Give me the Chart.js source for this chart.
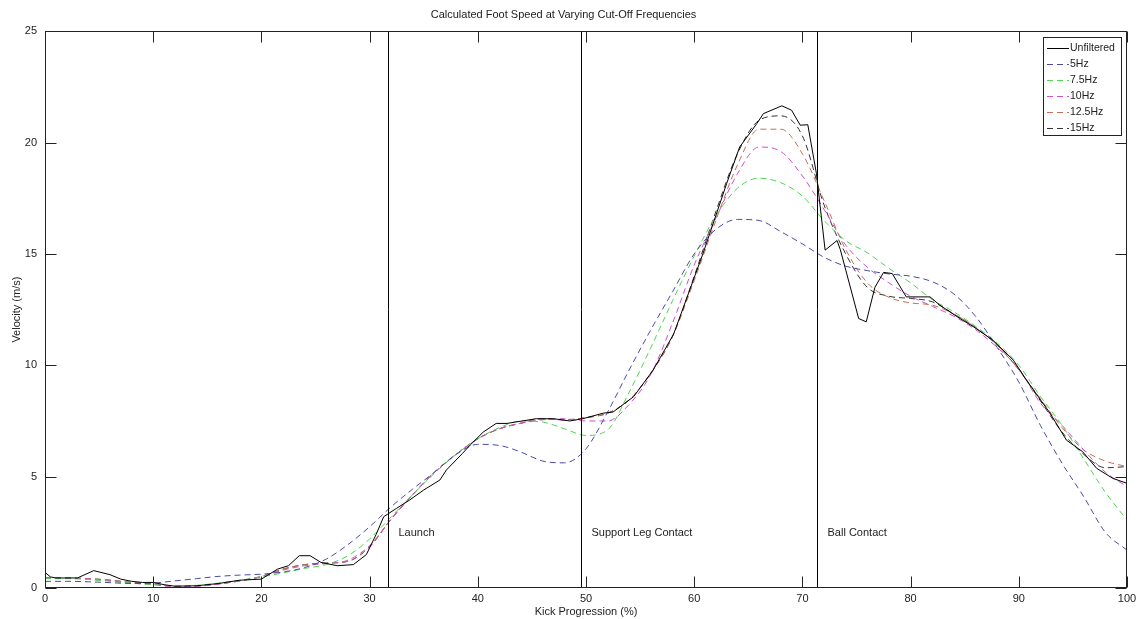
<!DOCTYPE html>
<html>
<head>
<meta charset="utf-8">
<script src="https://cdn.jsdelivr.net/npm/chart.js@4.4.1/dist/chart.umd.min.js"></script>
<style>
  html, body { margin: 0; padding: 0; background: #fff; }
</style>
</head>
<body>
<canvas id="grafico" width="1137" height="619"></canvas>
<script>
// Progressão do chute (%) para as curvas filtradas
const xs = [0, 2, 4, 6, 8, 10, 12, 14, 16, 18, 20, 22, 24, 26, 28, 30, 32, 34, 36, 38, 40,
  42, 44, 46, 48, 50, 52, 54, 56, 58, 60, 62, 64, 66, 68, 70, 72, 74, 76, 78, 80,
  82, 84, 86, 88, 90, 92, 94, 96, 98, 100];

const hz5 = [0.30, 0.30, 0.28, 0.24, 0.20, 0.22, 0.32, 0.42, 0.52, 0.58, 0.62,
  0.72, 0.92, 1.30, 1.95, 2.75, 3.65, 4.45, 5.20, 6.00, 6.45,
  6.40, 6.10, 5.70, 5.62, 6.25, 7.90, 9.80, 11.6, 13.3, 15.0,
  16.1, 16.55, 16.5, 16.0, 15.45, 14.85, 14.45, 14.25, 14.1, 14.0,
  13.75, 13.2, 12.2, 10.8, 9.25, 7.3, 5.6, 4.1, 2.5, 1.7];

const hz7_5 = [0.42, 0.42, 0.38, 0.30, 0.22, 0.15, 0.10, 0.12, 0.22, 0.35, 0.50,
  0.68, 0.88, 1.05, 1.45, 2.20, 3.20, 4.20, 5.15, 6.00, 6.70,
  7.20, 7.50, 7.45, 7.15, 6.85, 7.10, 8.80, 10.8, 12.9, 14.9,
  16.7, 17.95, 18.4, 18.2, 17.6, 16.5, 15.6, 15.05, 14.35, 13.7,
  12.95, 12.4, 11.75, 11.0, 10.0, 8.6, 7.3, 5.8, 4.3, 3.05];

const hz10 = [0.45, 0.45, 0.40, 0.32, 0.22, 0.15, 0.06, 0.08, 0.18, 0.32, 0.50,
  0.80, 1.00, 1.10, 1.25, 1.90, 3.10, 4.20, 5.20, 6.00, 6.70,
  7.15, 7.40, 7.55, 7.60, 7.50, 7.50, 8.25, 9.60, 11.9, 14.5,
  16.6, 18.6, 19.8, 19.6, 18.5, 17.0, 15.4, 14.4, 13.7, 13.1,
  12.65, 12.2, 11.6, 10.8, 9.85, 8.3, 7.3, 6.2, 5.2, 4.55];

const hz12_5 = [0.45, 0.45, 0.42, 0.35, 0.25, 0.18, 0.07, 0.08, 0.18, 0.32, 0.52,
  0.85, 1.05, 1.12, 1.20, 1.85, 3.10, 4.20, 5.20, 6.00, 6.70,
  7.15, 7.40, 7.60, 7.55, 7.65, 7.85, 8.45, 9.65, 11.3, 13.8,
  16.5, 19.0, 20.6, 20.6, 19.5, 17.4, 15.2, 13.7, 13.05, 12.8,
  12.7, 12.3, 11.7, 10.9, 9.8, 8.5, 7.2, 6.2, 5.7, 5.45];

const hz15 = [0.45, 0.45, 0.42, 0.35, 0.25, 0.18, 0.07, 0.08, 0.18, 0.32, 0.52,
  0.85, 1.05, 1.12, 1.20, 1.85, 3.10, 4.20, 5.20, 6.00, 6.70,
  7.15, 7.40, 7.60, 7.55, 7.65, 7.85, 8.45, 9.65, 11.3, 14.0,
  16.9, 19.5, 21.0, 21.2, 20.3, 17.2, 15.0, 13.5, 13.1, 13.0,
  12.85, 12.3, 11.7, 10.9, 9.8, 8.4, 7.0, 6.0, 5.4, 5.45];

// Sinal sem filtro (amostras irregulares)
const rawX = [0, 0.5, 1, 3, 4.5, 6, 7, 8, 9, 10, 11, 12, 14, 16, 18, 20, 21.5, 22.5, 23.5, 24.5,
  25.5, 27, 28.5, 29.7, 30.6, 31.3, 32.5, 33.7, 35, 36.5, 37.1, 38.6, 39.3, 40.5, 41.7, 42.7,
  45.4, 47, 48.5, 49.7, 51.6, 52.5, 54.4, 56.2, 58.1, 59.6, 60.8, 63, 64.2, 65.8, 66.4, 68.1,
  69, 69.8, 70.5, 71.3, 72.1, 73.2, 73.5, 75.2, 75.9, 76.7, 77.5, 78.3, 79.6, 81.8, 82.7,
  84.3, 85.8, 87.6, 89.5, 90.7, 92.9, 94.4, 95.9, 97.2, 98.7, 100];
const rawVel = [0.7, 0.5, 0.45, 0.45, 0.78, 0.6, 0.4, 0.3, 0.25, 0.25, 0.15, 0.08, 0.1, 0.2, 0.35, 0.4, 0.85, 1.0, 1.45, 1.45,
  1.15, 1.0, 1.05, 1.5, 2.4, 3.2, 3.58, 3.95, 4.4, 4.85, 5.3, 6.05, 6.42, 7.0, 7.39, 7.39,
  7.6, 7.6, 7.5, 7.6, 7.85, 7.9, 8.59, 9.78, 11.4, 13.4, 15.0, 18.16, 19.8, 20.86, 21.3, 21.65,
  21.45, 20.78, 20.8, 18.6, 15.17, 15.6, 15.2, 12.1, 11.95, 13.5, 14.17, 14.12, 13.07, 13.07, 12.7,
  12.18, 11.73, 11.13, 10.23, 9.34, 7.84, 6.64, 6.12, 5.37, 4.92, 4.7];

// Momentos do chute
const eventos = [31.7, 49.5, 71.35];
const rotulosEventos = ["Launch", "Support Leg Contact", "Ball Contact"];

const fonte = "'Liberation Sans', Arial, sans-serif";
Chart.defaults.font.family = fonte;
Chart.defaults.font.size = 11;
Chart.defaults.color = "#222";

const pares = (a, b) => a.map((v, i) => ({ x: v, y: b[i] }));

const tracejada = (label, cor, valores) => ({
  label: label,
  data: pares(xs, valores),
  borderColor: cor,
  borderWidth: 1,
  borderDash: [6, 4],
  pointRadius: 0,
  cubicInterpolationMode: "monotone",
  fill: false,
});

const dados = {
  datasets: [
    {
      label: "Unfiltered",
      data: pares(rawX, rawVel),
      borderColor: "#000",
      borderWidth: 1,
      pointRadius: 0,
      tension: 0,
      fill: false,
    },
    tracejada("5Hz", "#4a4aa6", hz5),
    tracejada("7.5Hz", "#4fd64f", hz7_5),
    tracejada("10Hz", "#d04ed0", hz10),
    tracejada("12.5Hz", "#c86e58", hz12_5),
    tracejada("15Hz", "#333333", hz15),
  ],
};

// Caixa, marcas internas, linhas de evento e legenda ao estilo MATLAB
const moldura = {
  id: "moldura",
  afterDatasetsDraw(chart) {
    const { ctx, chartArea: a, scales } = chart;
    const x = scales.x, y = scales.y;
    const L = Math.round(a.left) + 0.5, R = Math.round(a.right) - 0.5;
    const T = Math.round(a.top) + 0.5, B = Math.round(a.bottom) - 0.5;
    ctx.save();
    ctx.lineWidth = 1;
    ctx.font = "11px " + fonte;
    ctx.fillStyle = "#222";

    eventos.forEach((ev, i) => {
      const px = Math.round(x.getPixelForValue(ev)) + 0.5;
      ctx.strokeStyle = "#000";
      ctx.beginPath();
      ctx.moveTo(px, T);
      ctx.lineTo(px, B);
      ctx.stroke();
      ctx.textBaseline = "middle";
      ctx.textAlign = "left";
      ctx.fillText(rotulosEventos[i], px + 10, y.getPixelForValue(2.45));
    });

    ctx.strokeStyle = "#222";
    ctx.strokeRect(L, T, R - L, B - T);
    const tam = 11;
    ctx.beginPath();
    x.ticks.forEach(t => {
      const px = Math.round(x.getPixelForValue(t.value)) + 0.5;
      ctx.moveTo(px, B); ctx.lineTo(px, B - tam);
      ctx.moveTo(px, T); ctx.lineTo(px, T + tam);
    });
    y.ticks.forEach(t => {
      const py = Math.round(y.getPixelForValue(t.value)) + 0.5;
      ctx.moveTo(L, py); ctx.lineTo(L + tam, py);
      ctx.moveTo(R, py); ctx.lineTo(R - tam, py);
    });
    ctx.stroke();

    // legenda
    const ds = chart.data.datasets;
    const bx = Math.round(R - 84), by = Math.round(T + 5), bw = 78, lh = 15.9;
    const bh = 98;
    ctx.fillStyle = "#fff";
    ctx.fillRect(bx, by, bw, bh);
    ctx.strokeStyle = "#222";
    ctx.strokeRect(bx + 0.5, by + 0.5, bw, bh);
    ctx.font = "10.5px " + fonte;
    ds.forEach((d, i) => {
      const cy = Math.round(by + 11 + i * lh) + 0.5;
      ctx.strokeStyle = d.borderColor;
      ctx.setLineDash(d.borderDash || []);
      ctx.beginPath();
      ctx.moveTo(bx + 4, cy);
      ctx.lineTo(bx + 26, cy);
      ctx.stroke();
      ctx.setLineDash([]);
      ctx.fillStyle = "#222";
      ctx.textAlign = "left";
      ctx.textBaseline = "middle";
      ctx.fillText(d.label, bx + 27, cy);
    });
    ctx.restore();
  },
};

const config = {
  type: "line",
  data: dados,
  options: {
    responsive: false,
    animation: false,
    layout: { padding: { left: 0, right: 10, top: 0, bottom: 0 } },
    plugins: {
      legend: { display: false },
      tooltip: { enabled: false },
      title: {
        display: true,
        text: "Calculated Foot Speed at Varying Cut-Off Frequencies",
        font: { size: 11, weight: "normal" },
        color: "#222",
        padding: { top: 8, bottom: 10 },
      },
    },
    scales: {
      x: {
        type: "linear",
        min: 0,
        max: 100,
        grid: { display: false, drawTicks: false },
        border: { display: false },
        ticks: { stepSize: 10, padding: 4, maxRotation: 0 },
        title: { display: true, text: "Kick Progression (%)", padding: { top: 0, bottom: 0 } },
        afterFit(s) { s.height = 31; s.paddingLeft = 0; s.paddingRight = 0; },
      },
      y: {
        min: 0,
        max: 25,
        grid: { display: false, drawTicks: false },
        border: { display: false },
        ticks: { stepSize: 5, padding: 8 },
        title: { display: true, text: "Velocity (m/s)", padding: { top: 10, bottom: 0 } },
        afterFit(s) { s.width = 45; s.paddingTop = 0; s.paddingBottom = 0; },
      },
    },
  },
  plugins: [moldura],
};

const ctx = document.getElementById("grafico").getContext("2d");
new Chart(ctx, config);
</script>
</body>
</html>
